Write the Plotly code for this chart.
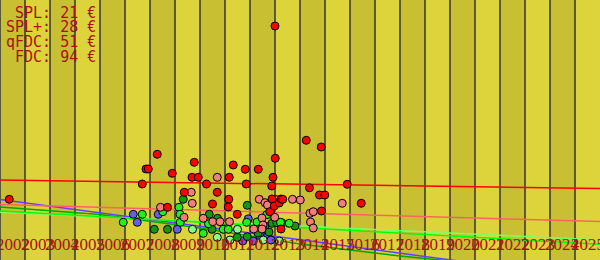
import plotly.graph_objects as go

# ---- data ----
years_fdc = [2002.37, 2007.69, 2007.84, 2007.93, 2008.29, 2008.70, 2008.89, 2009.37, 2009.68, 2009.93,
             2009.77, 2010.26, 2010.50, 2010.69, 2011.15, 2011.13, 2011.17, 2011.33, 2011.49, 2011.81,
             2011.85, 2012.33, 2012.79, 2012.87, 2012.88, 2012.92, 2012.97, 2013.01, 2013.00, 2013.17,
             2013.24, 2013.31, 2013.24, 2014.25, 2014.38, 2014.78, 2014.99, 2014.85, 2014.86, 2015.89,
             2016.45]
vals_fdc = [60.7, 76, 91, 91, 105.7, 52.7, 86.7, 67.7, 82.7, 82.7,
            97.7, 76, 56, 67.7, 60.7, 53, 82.7, 95, 45.7, 90.7,
            76, 90.7, 48.3, 74, 61, 82.7, 54, 101.7, 234, 57,
            61, 60.7, 31, 119.7, 72.2, 65, 65, 113, 49, 75.7,
            56.7]

years_qfdc = [2008.42, 2009.36, 2009.65, 2009.69, 2010.13, 2010.51, 2010.69, 2011.18, 2012.15, 2012.37,
              2012.60, 2012.48, 2012.52, 2012.48, 2012.99, 2013.01, 2013.70, 2014.01, 2014.40, 2014.53,
              2014.42, 2014.53, 2015.69, 2010.80, 2012.70]
vals_qfdc = [52.7, 42.7, 67.7, 56.7, 41.7, 38.3, 82.7, 38.3, 31, 60.7,
             57.3, 42, 35, 31, 42.7, 60.7, 60.7, 60, 46.7, 48.3,
             38, 32, 56.7, 38.3, 55]

years_spl = [2008.17, 2008.70, 2009.33, 2010.37, 2010.48, 2010.70, 2011.49, 2011.89, 2012.72, 2012.84,
             2012.88, 2013.07, 2013.27, 2012.60, 2012.76, 2013.80, 2011.89, 2012.32]
vals_spl = [30.7, 30.7, 60.7, 45.7, 30.7, 41.7, 22.7, 54.7, 45.7, 46,
            36.7, 37.3, 37.3, 34, 28, 34, 23.3, 27]

years_splp = [2006.93, 2007.69, 2008.51, 2009.16, 2009.20, 2009.21, 2010.13, 2010.34, 2010.93, 2011.13,
              2011.87, 2012.67, 2013.22, 2013.57, 2012.28]
vals_splp = [37.7, 45.7, 48.3, 52.7, 45.7, 37.7, 26.7, 36.2, 30.7, 30.7,
             37.7, 45.3, 37.7, 36.7, 38]

years_ttb = [2009.70, 2010.69, 2011.50, 2011.20, 2012.53, 2013.17]
vals_ttb = [30.7, 22.7, 30.7, 20, 20, 19]

years_tb = [2007.33, 2007.49, 2008.33, 2009.09, 2011.71, 2011.93, 2012.13, 2012.38, 2012.71, 2012.84]
vals_tb = [45.7, 37.7, 45.7, 30.7, 19, 41.2, 19, 24.5, 25, 20]

trend_years = [2002, 2026]
trend_fdc = [80, 71.5]
trend_qfdc = [55.5, 38.5]
trend_splp = [49, 15.7]
trend_ttb = [47.7, 20]
trend_tb = [60.5, -20]
trend_spl_years = [2002, 2006, 2010, 2014, 2018, 2020]
trend_spl = [53, 45.5, 32, 16, 4, -1]

legend_grades = ["SPL", "SPL+", "qFDC", "FDC"]
legend_prices = [21, 28, 51, 94]

tick_years = list(range(2002, 2026))

# ---- styles ----
LIGHT = "#DDD43C"
DARK = "#C9BF33"
GRID = "#34343C"
TXT = "#AA1010"

fig = go.Figure()

lines = [
    (trend_years, trend_tb, "#6A3CFF"),
    (trend_spl_years, trend_spl, "#00A800"),
    (trend_years, trend_ttb, "#80FF60"),
    (trend_years, trend_splp, "#00FF00"),
    (trend_years, trend_qfdc, "#FF6262"),
    (trend_years, trend_fdc, "#FF0000"),
]
for xs, ys, c in lines:
    fig.add_trace(go.Scatter(x=xs, y=ys, mode="lines", line=dict(color=c, width=1.5),
                             hoverinfo="skip", showlegend=False))

series = [
    (years_tb, vals_tb, "#6A5AEE"),
    (years_ttb, vals_ttb, "#88FF88"),
    (years_spl, vals_spl, "#119A11"),
    (years_splp, vals_splp, "#22EE22"),
    (years_qfdc, vals_qfdc, "#F47C7C"),
    (years_fdc, vals_fdc, "#FF0000"),
]
for xs, ys, c in series:
    fig.add_trace(go.Scatter(x=xs, y=ys, mode="markers",
                             marker=dict(color=c, size=8, line=dict(color="black", width=1)),
                             showlegend=False))

shapes = []
for i, yr in enumerate(tick_years):
    if i % 2 == 0:
        shapes.append(dict(type="rect", xref="x", yref="paper", x0=yr, x1=yr + 1, y0=0, y1=1,
                           fillcolor=DARK, line=dict(width=0), layer="below"))
for yr in tick_years:
    shapes.append(dict(type="line", xref="x", yref="paper", x0=yr, x1=yr, y0=0, y1=1,
                       line=dict(color=GRID, width=1.5), layer="below"))

annotations = []
for i, (g, p) in enumerate(zip(legend_grades, legend_prices)):
    annotations.append(dict(xref="paper", yref="paper", x=98 / 600, y=1 - (13 + 14.5 * i) / 260,
                            xanchor="right", yanchor="middle", showarrow=False,
                            text=f"{g}: {p} €".replace(" ", "&nbsp;"),
                            font=dict(family="DejaVu Sans Mono", size=15, color=TXT)))

# year labels along the bottom (centred on each year band)
for yr in tick_years:
    annotations.append(dict(xref="x", yref="paper", x=yr + 0.5, y=1 - 244.5 / 260,
                            xanchor="center", yanchor="middle", showarrow=False,
                            text=str(yr), borderpad=0,
                            font=dict(family="Liberation Serif", size=17, color=TXT)))

fig.update_layout(
    width=600, height=260, margin=dict(l=0, r=0, t=0, b=0),
    plot_bgcolor=LIGHT, paper_bgcolor=LIGHT,
    shapes=shapes, annotations=annotations,
    xaxis=dict(range=[2002, 2026], showgrid=False, zeroline=False, showticklabels=False,
               ticks="", showline=False),
    yaxis=dict(range=[0, 260], showgrid=False, zeroline=False, showticklabels=False,
               showline=False, ticks=""),
)

fig.write_html("out.html")
